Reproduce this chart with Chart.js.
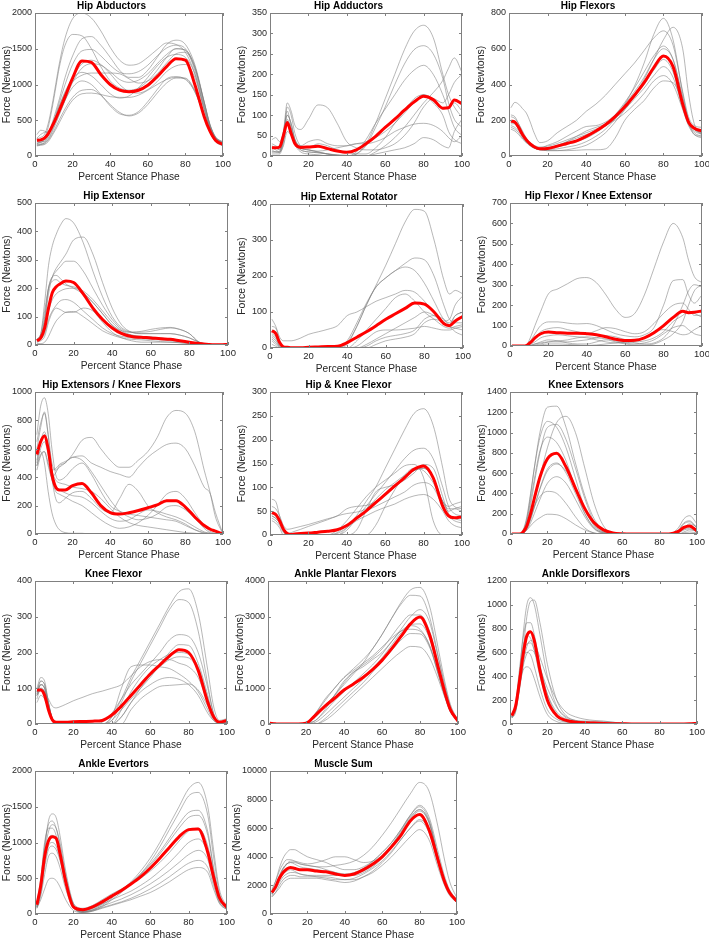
<!DOCTYPE html>
<html><head><meta charset="utf-8">
<script src="https://cdn.jsdelivr.net/npm/chart.js@4.4.1/dist/chart.umd.min.js"></script>
<style>
html,body{margin:0;padding:0;background:#fff;width:709px;height:940px;overflow:hidden;position:relative}
canvas{position:absolute}
</style></head><body>
<script>
// ---------- DATA ----------
const pct = [1,3,5,7,9,11,13,16,20,25,30,35,40,45,50,55,60,65,70,75,80,85,90,93,96,100];

const hipAbdMean = [220,225,250,310,410,520,640,830,1090,1330,1310,1140,1000,920,900,920,990,1110,1250,1360,1340,1000,550,350,220,160];
const hipAbdSubj = [
 [240,260,300,450,700,1000,1300,1650,1920,2000,1930,1750,1520,1340,1270,1290,1380,1490,1580,1560,1450,1150,650,400,260,200],
 [200,210,250,400,650,950,1250,1550,1700,1680,1500,1250,1050,950,920,950,1050,1200,1380,1500,1480,1200,700,420,260,180],
 [180,190,220,300,450,620,800,1100,1400,1640,1670,1550,1380,1200,1100,1100,1200,1380,1560,1620,1560,1280,760,450,270,190],
 [150,160,190,280,420,580,750,1000,1280,1470,1490,1400,1270,1170,1150,1180,1270,1400,1510,1550,1500,1250,740,430,250,170],
 [160,170,180,230,330,450,580,780,1030,1230,1290,1270,1180,1070,1030,1060,1150,1290,1420,1500,1480,1250,750,440,260,180],
 [250,300,330,350,420,550,700,900,1080,1170,1120,1000,870,810,840,950,1100,1260,1380,1420,1380,1150,680,400,240,170],
 [170,200,200,250,350,480,600,780,960,1050,1000,860,700,590,570,620,760,930,1080,1110,1070,900,560,340,200,150],
 [150,160,170,220,300,400,510,660,820,920,930,850,720,610,560,600,720,880,1020,1090,1080,900,560,340,200,140],
 [140,150,160,200,280,370,470,620,780,870,880,860,830,820,820,850,920,1000,1070,1100,1090,920,580,350,210,150],
 [180,190,220,300,420,560,700,880,1040,1130,1160,1160,1160,1150,1080,1020,1050,1150,1300,1430,1450,1230,750,440,260,180],
 [300,360,350,320,380,500,640,860,1100,1290,1340,1280,1150,1000,900,880,930,1040,1180,1260,1280,1100,650,380,230,170]
];

const hipAddMean = [20,20,22,50,82,55,30,21,22,24,18,12,9,15,30,48,70,90,112,132,146,138,117,118,137,128];
const hipAddSubj = [
 [30,25,20,60,110,70,30,10,5,3,0,0,0,5,30,80,140,200,260,305,320,290,200,150,120,95],
 [25,20,15,50,100,80,40,20,15,10,5,2,0,5,25,70,120,175,225,260,270,250,190,130,90,70],
 [20,15,10,40,90,60,30,15,10,8,5,2,0,10,40,80,115,150,185,210,222,200,150,110,70,50],
 [40,45,35,60,130,110,75,65,90,125,118,80,35,20,15,15,20,30,50,80,120,140,130,150,180,200],
 [15,10,10,50,100,80,40,20,15,10,5,0,0,0,0,10,25,45,70,100,130,155,185,215,240,205],
 [10,10,8,40,85,70,40,25,35,40,30,25,25,30,35,45,60,80,105,130,150,140,115,120,130,110],
 [5,5,5,30,75,60,35,20,15,12,15,20,25,30,30,35,45,60,70,78,80,75,60,45,35,50],
 [10,10,10,25,60,50,30,15,10,8,5,3,2,0,0,5,10,15,20,30,45,40,25,20,60,90],
 [20,20,15,40,120,100,55,25,20,30,25,15,10,5,5,20,45,80,110,140,150,130,100,60,40,30]
];

const hipFlexMean = [195,190,160,120,90,68,52,40,42,55,70,85,110,140,175,220,275,340,410,495,560,500,290,190,155,140];
const hipFlexSubj = [
 [270,300,290,265,240,190,130,75,85,130,165,200,250,290,340,400,460,520,590,660,700,620,360,220,170,160],
 [230,220,180,130,90,60,45,35,35,40,50,60,80,110,150,210,290,390,520,680,770,650,350,200,120,110],
 [180,180,150,110,80,60,45,35,30,30,35,45,60,90,130,190,260,340,430,540,650,720,600,350,180,120],
 [200,190,160,120,90,65,50,40,40,50,65,80,100,130,170,230,300,380,470,560,615,540,320,200,150,130],
 [160,150,130,100,75,55,45,35,40,55,80,110,140,160,180,220,270,330,400,480,540,470,280,180,130,110],
 [150,140,120,95,75,60,50,40,45,60,80,100,120,140,170,200,240,290,350,420,450,400,260,170,120,100],
 [170,160,140,110,80,60,45,35,30,30,30,32,35,35,40,100,200,260,310,380,420,410,300,200,150,120],
 [220,210,180,140,100,75,60,50,55,70,90,110,130,150,170,210,260,320,380,450,500,440,270,180,140,120],
 [190,180,150,110,80,60,50,45,60,80,110,140,165,170,190,230,290,360,440,540,600,540,330,200,150,130]
];

const hipExtMean = [15,25,60,130,185,205,215,225,220,180,130,90,60,40,30,27,25,22,20,15,10,5,2,1,1,2];
const hipExtSubj = [
 [20,40,150,280,350,390,420,445,430,360,260,170,100,60,45,40,40,40,40,35,25,10,3,1,1,1],
 [20,30,80,180,240,270,290,320,370,380,320,220,130,70,45,40,40,40,40,35,25,10,2,1,1,1],
 [15,30,100,200,240,260,275,295,295,260,200,140,90,55,45,45,48,55,60,55,40,10,2,1,1,1],
 [15,30,90,200,240,245,235,215,200,180,150,110,70,45,35,30,28,25,20,15,10,5,2,1,1,1],
 [15,20,50,120,160,180,190,198,200,185,150,110,70,50,45,48,55,60,62,55,40,10,2,1,1,1],
 [10,20,40,90,120,140,155,160,150,120,90,60,40,30,25,22,20,18,15,12,8,4,1,0,0,0],
 [10,15,30,80,115,130,125,115,115,130,120,80,45,25,15,10,10,10,10,8,5,2,0,0,0,0],
 [5,5,10,30,60,85,100,115,118,100,75,50,35,25,20,18,15,12,10,8,5,3,1,0,0,0],
 [20,40,120,200,225,230,220,210,205,190,160,120,80,50,35,30,28,25,20,15,10,5,2,1,1,1]
];

const hipRotMean = [48,40,15,3,2,1,1,1,2,3,4,5,15,30,45,62,80,95,110,125,122,100,68,62,75,88];
const hipRotSubj = [
 [50,45,15,0,0,0,0,0,0,0,0,0,10,60,120,175,230,290,350,385,380,300,190,150,160,150],
 [40,30,8,0,0,0,0,0,0,0,0,0,20,70,125,170,195,215,235,250,245,200,120,80,70,70],
 [35,25,5,0,0,0,0,0,0,0,0,0,15,60,120,170,195,215,225,215,180,130,80,70,90,100],
 [80,60,30,20,20,20,22,28,38,45,52,62,90,100,115,130,140,150,160,155,130,100,75,80,120,145],
 [30,20,5,0,0,0,0,0,0,0,0,0,0,20,50,80,110,140,150,130,100,80,60,55,60,65],
 [20,10,2,0,0,0,0,0,0,0,0,0,0,0,10,25,40,55,70,85,100,90,70,60,55,50],
 [25,15,3,0,0,0,0,0,0,0,0,0,0,5,25,45,50,50,52,55,60,55,50,50,55,60],
 [10,5,0,0,0,0,0,0,0,0,0,0,0,0,0,10,20,25,30,40,70,80,70,60,45,35],
 [60,55,20,0,0,0,0,0,0,0,0,0,0,0,5,20,30,35,40,50,80,90,80,65,90,100]
];

const hipFlexKneeExtMean = [0,0,0,0,5,20,40,60,68,65,63,63,60,55,45,33,27,28,40,65,100,140,170,163,165,172];
const hipFlexKneeExtSubj = [
 [0,0,0,0,10,50,100,170,255,280,305,330,335,310,250,180,140,160,250,380,510,600,530,420,340,310],
 [0,0,0,0,5,30,60,100,118,118,112,108,110,100,80,60,50,45,55,90,200,320,325,250,210,250],
 [0,0,0,0,3,15,40,70,85,90,80,70,60,75,90,85,70,60,70,110,160,200,210,180,150,150],
 [0,0,0,0,0,5,10,15,20,20,20,25,30,40,50,45,30,15,10,15,40,100,200,270,300,290],
 [0,0,0,0,0,3,10,20,30,25,15,10,10,20,30,20,10,5,5,10,30,60,120,200,270,300],
 [0,0,0,0,0,10,20,40,50,55,50,45,40,30,20,15,15,25,40,70,80,70,55,60,80,100],
 [0,0,0,0,0,0,5,10,20,25,30,40,45,40,35,25,15,10,15,30,60,90,100,80,60,50],
 [0,0,0,0,0,0,0,5,10,10,8,5,3,5,10,15,20,20,25,40,70,120,150,170,160,140]
];

const hipExtKneeFlexMean = [560,650,690,600,420,330,310,310,340,355,290,200,150,140,150,165,185,205,235,235,190,120,60,35,20,0];
const hipExtKneeFlexSubj = [
 [700,900,960,850,600,420,380,400,460,500,420,300,200,160,140,130,120,110,100,90,60,30,10,5,2,0],
 [480,560,580,480,400,430,480,500,560,660,680,600,520,470,470,520,580,680,820,870,850,720,450,300,120,0],
 [520,640,700,600,450,460,490,510,540,550,500,470,440,420,400,470,540,590,630,640,600,480,330,290,150,0],
 [600,750,860,700,400,250,220,250,290,300,250,180,150,250,350,300,200,150,120,100,70,30,5,0,0,0],
 [450,550,580,500,380,300,280,260,230,200,150,100,60,40,50,80,130,200,280,300,250,150,60,20,5,0],
 [550,580,500,300,150,70,30,10,5,5,0,0,0,0,0,0,0,0,0,0,0,0,0,0,0,0],
 [480,600,650,560,400,330,310,290,270,260,220,160,110,90,100,140,170,160,140,120,90,50,15,5,0,0],
 [500,650,720,620,450,380,360,350,330,320,300,250,180,120,80,60,50,40,30,20,10,5,0,0,0,0],
 [650,780,850,700,500,450,470,500,540,520,440,340,240,160,120,100,110,140,190,200,170,110,40,10,0,0]
];

const hipKneeFlexMean = [47,43,30,12,3,1,2,3,4,6,8,11,20,35,50,68,85,103,120,138,145,120,60,40,36,38];
const hipKneeFlexSubj = [
 [50,45,30,10,0,0,0,0,0,0,0,0,15,40,70,100,140,180,220,255,265,230,140,80,60,55],
 [45,40,30,10,0,0,0,0,0,0,0,0,10,35,60,85,110,135,160,178,182,160,100,60,45,40],
 [75,70,40,10,0,0,0,0,0,0,0,10,30,55,80,100,115,130,145,148,120,30,0,0,0,0],
 [60,55,40,20,12,13,15,18,22,28,34,40,55,60,62,70,85,100,120,135,140,120,70,55,55,50],
 [40,35,25,8,0,0,0,0,0,0,0,5,20,35,50,60,70,80,90,105,110,100,60,40,30,25],
 [40,35,25,10,2,0,0,0,0,0,0,3,15,30,40,50,58,65,75,82,85,75,50,30,20,15],
 [50,45,30,10,2,5,8,12,18,25,32,40,45,48,55,75,95,110,125,135,140,120,70,50,55,60],
 [35,30,20,5,0,0,0,0,0,0,0,0,0,10,50,90,100,105,115,130,148,140,80,45,35,30],
 [30,25,15,0,0,0,0,0,0,0,0,0,0,0,0,20,60,95,125,140,135,110,70,60,65,70]
];

const kneeExtMean = [0,0,0,20,80,200,350,560,740,795,660,450,250,110,40,10,2,0,0,0,0,0,25,65,80,30];
const kneeExtSubj = [
 [0,0,0,30,150,380,650,1000,1250,1260,1050,700,380,150,40,5,0,0,0,0,0,0,30,100,120,60],
 [0,0,0,10,60,180,330,560,850,1100,1160,1000,650,300,80,10,0,0,0,0,0,0,60,150,180,100],
 [0,0,0,40,170,400,650,950,1110,1050,850,550,250,80,15,0,0,0,0,0,0,0,10,40,50,20],
 [0,0,0,20,110,280,500,800,1050,1080,930,650,350,120,25,0,0,0,0,0,0,0,0,10,20,10],
 [0,0,0,30,130,330,540,820,955,900,720,450,200,60,10,0,0,0,0,0,0,0,40,110,130,60],
 [0,0,0,10,60,150,270,450,640,700,600,400,200,60,10,0,0,0,0,0,0,0,20,50,60,30],
 [0,0,0,8,40,110,200,340,500,565,500,340,170,50,5,0,0,0,0,0,0,0,0,20,40,30],
 [0,0,0,15,70,170,270,370,420,400,300,170,60,10,0,0,0,0,0,0,0,0,0,0,0,0],
 [0,0,0,10,40,80,120,160,195,190,150,90,40,10,0,0,0,0,0,0,0,0,0,0,0,0],
 [0,0,0,8,50,140,260,440,620,690,620,450,250,90,20,0,0,0,0,0,0,0,10,60,100,70]
];

const kneeFlexMean = [95,95,80,40,12,5,5,5,6,7,8,10,25,50,80,110,140,165,190,208,200,150,60,20,5,10];
const kneeFlexSubj = [
 [80,110,100,50,10,0,0,0,0,0,0,0,20,70,130,180,230,280,330,370,378,310,150,50,10,15],
 [100,130,120,60,10,0,0,0,0,0,0,0,10,60,120,170,220,270,320,348,340,260,110,30,5,10],
 [90,120,110,60,15,0,0,0,0,0,0,5,30,70,110,140,170,200,235,250,245,200,100,30,5,5],
 [85,110,100,55,15,0,0,0,0,0,0,0,10,40,70,100,130,165,200,222,220,170,80,20,5,10],
 [80,95,90,70,50,45,48,55,65,75,85,92,100,110,135,160,175,180,180,170,160,130,60,20,5,10],
 [90,120,110,60,15,0,0,0,0,0,0,0,0,20,60,100,135,160,180,188,185,150,70,20,5,10],
 [70,100,90,50,10,0,0,0,0,0,0,0,20,100,160,165,165,160,155,140,120,90,40,10,3,5],
 [60,80,70,40,10,0,0,0,0,0,0,0,0,20,60,90,110,125,130,125,110,80,30,10,3,5],
 [85,110,100,55,15,0,0,0,0,0,0,0,0,0,40,70,90,105,108,110,112,95,50,15,3,8],
 [80,100,90,50,10,0,0,0,0,0,0,0,0,40,90,130,160,180,195,200,195,160,70,20,5,10]
];

const plantarMean = [20,10,0,0,0,0,0,0,20,250,500,720,950,1120,1300,1520,1780,2100,2450,2800,2990,2500,1500,900,400,80];
const plantarSubj = [
 [0,0,0,0,0,0,0,0,0,200,500,800,1100,1400,1700,2100,2500,2950,3400,3750,3820,3300,2000,1200,550,100],
 [30,10,0,0,0,0,0,0,0,300,650,1000,1300,1550,1800,2100,2500,2950,3350,3600,3580,3000,1800,1100,500,100],
 [0,0,0,0,0,0,0,0,0,100,350,650,900,1150,1400,1650,1950,2300,2650,3000,3200,2850,1750,1050,450,90],
 [50,20,0,0,0,0,0,0,20,200,500,800,1150,1450,1650,1850,2100,2450,2800,3050,3050,2600,1600,950,400,80],
 [0,0,0,0,0,0,0,0,0,50,250,500,750,1000,1250,1550,1850,2200,2550,2780,2800,2400,1500,900,380,80],
 [20,10,0,0,0,0,0,0,30,100,400,800,1200,1450,1600,1800,2000,2300,2600,2750,2650,2200,1300,800,350,70],
 [0,0,0,0,0,0,0,0,0,0,150,400,650,900,1150,1450,1750,2050,2350,2530,2520,2150,1350,800,350,70],
 [0,0,0,0,0,0,0,0,0,0,100,300,550,800,1050,1300,1550,1800,2020,2170,2150,1850,1200,750,330,70],
 [0,0,0,0,0,0,0,0,20,300,700,1000,1300,1500,1700,1900,2150,2400,2600,2650,2600,2200,1350,800,350,70]
];

const dorsiMean = [70,150,350,580,740,775,700,450,200,70,30,15,10,8,5,3,2,1,1,1,1,1,1,1,2,5];
const dorsiSubj = [
 [60,150,400,750,1000,1060,1000,750,400,150,50,25,15,10,5,2,0,0,0,0,0,0,0,0,0,0],
 [50,100,300,600,900,1030,1040,850,500,200,70,30,20,15,10,5,2,0,0,0,0,0,0,0,0,0],
 [70,180,450,720,850,850,750,500,250,80,30,15,10,5,2,0,0,0,0,0,0,0,0,0,0,0],
 [60,150,400,650,740,720,620,400,200,60,20,10,5,2,0,0,0,0,0,0,0,0,0,0,0,0],
 [60,150,350,580,670,680,620,450,250,100,40,20,10,5,2,0,0,0,0,0,0,0,0,0,0,0],
 [50,110,280,480,590,620,600,470,300,140,60,30,25,22,20,15,8,3,0,0,0,0,0,0,0,0],
 [60,150,380,560,600,580,480,300,120,40,15,5,2,0,0,0,0,0,0,0,0,0,0,0,0,0],
 [50,130,320,450,480,460,380,230,80,20,5,2,0,0,0,0,0,0,0,0,0,0,0,0,0,0],
 [60,120,300,500,650,700,680,560,380,200,100,60,40,30,25,15,5,2,0,0,0,0,0,0,0,0]
];

const evertMean = [130,400,800,1020,1080,1060,850,450,100,60,100,170,250,330,420,520,640,780,930,1080,1180,1190,860,520,230,90];
const evertSubj = [
 [100,400,900,1300,1400,1350,1100,600,150,30,50,120,220,330,450,600,780,1000,1250,1500,1750,1840,1500,900,350,100],
 [120,450,950,1250,1300,1200,950,500,120,20,40,100,200,300,420,560,730,940,1180,1420,1650,1700,1380,800,300,90],
 [150,500,1000,1200,1200,1100,850,450,100,30,60,140,240,340,440,560,700,870,1060,1260,1420,1450,1150,650,250,90],
 [100,350,800,1050,1100,1050,850,500,150,80,120,200,280,350,420,500,600,720,860,1020,1160,1200,950,550,220,80],
 [80,300,700,950,1000,950,780,450,120,50,80,140,200,260,320,400,490,600,720,860,1000,1050,850,500,200,80],
 [100,300,650,900,950,900,750,420,100,40,60,110,160,210,270,340,420,510,610,720,830,890,760,450,180,70],
 [90,250,550,800,850,800,650,350,80,30,50,90,130,170,220,280,350,430,520,620,710,750,650,400,160,60],
 [80,200,350,480,500,470,380,200,50,20,40,80,120,160,200,250,300,370,450,540,620,650,580,350,150,60],
 [110,380,850,1150,1250,1200,1000,550,130,40,80,150,240,330,430,550,680,840,1020,1200,1350,1380,1100,620,240,90]
];

const sumMean = [1500,1900,2500,2900,3150,3250,3200,3100,3100,3000,2950,2800,2700,2800,3100,3500,4000,4700,5500,6500,6950,5900,3700,2400,1500,900];
const sumSubj = [
 [1400,1900,2600,3200,3500,3600,3600,3500,3400,3300,3300,3400,3500,3700,4100,4700,5500,6400,7400,8400,9200,8600,6000,4000,2300,1100],
 [1600,2300,3200,3900,4300,4500,4500,4300,4000,3800,3600,3300,3100,3100,3300,3700,4300,5000,5900,6900,7600,6800,4300,2800,1700,1000],
 [1500,2000,2700,3200,3500,3600,3500,3300,3200,3100,3000,2900,2800,2900,3200,3700,4300,5000,5900,6900,7500,6600,4000,2600,1600,900],
 [1300,1800,2400,2800,3000,3100,3000,2800,2700,2700,2700,2700,2700,2800,3000,3400,4000,4800,5800,6800,7300,6400,3800,2400,1500,800],
 [1400,1700,2200,2600,2800,2900,2900,2800,2700,2600,2500,2400,2400,2500,2800,3200,3700,4400,5200,6000,6500,5700,3500,2200,1400,800],
 [1200,1500,2000,2400,2600,2700,2700,2600,2600,2600,2600,2500,2400,2400,2600,2900,3400,4000,4700,5400,5900,5200,3200,2100,1300,800],
 [1700,2300,3000,3500,3800,3800,3700,3500,3400,3300,3100,2900,2700,2700,2900,3300,3900,4700,5600,6600,7200,6400,3900,2500,1500,900],
 [1200,1500,1800,2200,2400,2500,2500,2500,2500,2500,2400,2300,2200,2300,2600,3000,3600,4300,5200,6000,6600,5900,3600,2300,1400,800],
 [1400,1800,2500,3100,3500,3700,3700,3600,3500,3600,3800,4000,4000,3800,3600,3700,4100,4800,5700,6700,7300,6500,3900,2500,1500,900]
];

const xTicksStep = 20;
const xLabel = 'Percent Stance Phase';
const yLabel = 'Force (Newtons)';

// ---------- LAYOUT ----------
const panels = [
 {title:'Hip Abductors', mean:hipAbdMean, subj:hipAbdSubj, yMax:2000, yStep:500, box:[35,13,223,156]},
 {title:'Hip Adductors', mean:hipAddMean, subj:hipAddSubj, yMax:350, yStep:50, box:[270,13,462,156]},
 {title:'Hip Flexors', mean:hipFlexMean, subj:hipFlexSubj, yMax:800, yStep:200, box:[509,13,702,156]},
 {title:'Hip Extensor', mean:hipExtMean, subj:hipExtSubj, yMax:500, yStep:100, box:[35,203,228,345]},
 {title:'Hip External Rotator', mean:hipRotMean, subj:hipRotSubj, yMax:400, yStep:100, box:[270,204,463,348]},
 {title:'Hip Flexor / Knee Extensor', mean:hipFlexKneeExtMean, subj:hipFlexKneeExtSubj, yMax:700, yStep:100, box:[510,203,702,346]},
 {title:'Hip Extensors / Knee Flexors', mean:hipExtKneeFlexMean, subj:hipExtKneeFlexSubj, yMax:1000, yStep:200, box:[35,392,223,534]},
 {title:'Hip & Knee Flexor', mean:hipKneeFlexMean, subj:hipKneeFlexSubj, yMax:300, yStep:50, box:[270,392,462,535]},
 {title:'Knee Extensors', mean:kneeExtMean, subj:kneeExtSubj, yMax:1400, yStep:200, box:[510,392,697,534]},
 {title:'Knee Flexor', mean:kneeFlexMean, subj:kneeFlexSubj, yMax:400, yStep:100, box:[35,581,227,724]},
 {title:'Ankle Plantar Flexors', mean:plantarMean, subj:plantarSubj, yMax:4000, yStep:1000, box:[268,581,458,724]},
 {title:'Ankle Dorsiflexors', mean:dorsiMean, subj:dorsiSubj, yMax:1200, yStep:200, box:[510,581,697,724]},
 {title:'Ankle Evertors', mean:evertMean, subj:evertSubj, yMax:2000, yStep:500, box:[35,771,227,914]},
 {title:'Muscle Sum', mean:sumMean, subj:sumSubj, yMax:10000, yStep:2000, box:[270,771,457,914], left:40}
];

const FONT = "'Liberation Sans', Arial, Helvetica, sans-serif";
const T = 17, B = 29, R = 12;

const boxPlugin = {
  id: 'matlabBox',
  afterDatasetsDraw(chart) {
    const {ctx, chartArea: a} = chart;
    const xs = chart.scales.x, ys = chart.scales.y;
    ctx.save();
    ctx.strokeStyle = '#808080';
    ctx.lineWidth = 1;
    ctx.strokeRect(Math.round(a.left) + 0.5, Math.round(a.top) + 0.5, Math.round(a.width) - 1, Math.round(a.height) - 1);
    ctx.beginPath();
    xs.ticks.forEach(t => {
      const px = Math.round(xs.getPixelForValue(t.value)) + 0.5;
      ctx.moveTo(px, a.bottom); ctx.lineTo(px, a.bottom - 3);
      ctx.moveTo(px, a.top); ctx.lineTo(px, a.top + 3);
    });
    ys.ticks.forEach(t => {
      const py = Math.round(ys.getPixelForValue(t.value)) + 0.5;
      ctx.moveTo(a.left, py); ctx.lineTo(a.left + 3, py);
      ctx.moveTo(a.right, py); ctx.lineTo(a.right - 3, py);
    });
    ctx.stroke();
    ctx.restore();
  }
};

panels.forEach(p => {
  const [x0, y0, x1, y1] = p.box;
  const L = p.left || 35;
  const w = L + (x1 - x0) + R, h = T + (y1 - y0) + B;
  const cv = document.createElement('canvas');
  cv.width = w; cv.height = h;
  cv.style.left = (x0 - L) + 'px'; cv.style.top = (y0 - T) + 'px';
  cv.style.width = w + 'px'; cv.style.height = h + 'px';
  document.body.appendChild(cv);

  const toPts = arr => pct.map((x, i) => ({x: x, y: arr[i]}));
  const datasets = [{
    data: toPts(p.mean), borderColor: '#ff0000', borderWidth: 3,
    pointRadius: 0, cubicInterpolationMode: 'monotone', fill: false
  }];
  p.subj.forEach(s => datasets.push({
    data: toPts(s), borderColor: 'rgba(125,125,125,0.8)', borderWidth: 0.7,
    pointRadius: 0, cubicInterpolationMode: 'monotone', fill: false
  }));

  new Chart(cv, {
    type: 'line',
    data: {datasets},
    plugins: [boxPlugin],
    options: {
      responsive: false, animation: false, devicePixelRatio: 1,
      layout: {padding: {left: 0, right: R, top: 0, bottom: 0}},
      plugins: {
        legend: {display: false}, tooltip: {enabled: false},
        title: {display: true, text: p.title, color: '#000',
          font: {family: FONT, size: 10, weight: 'bold', lineHeight: '13px'},
          padding: {top: 4, bottom: 0}}
      },
      scales: {
        x: {type: 'linear', min: 0, max: 100,
          afterFit: s => { s.height = B; },
          grid: {display: false, drawTicks: false},
          border: {display: false},
          ticks: {stepSize: xTicksStep, autoSkip: false, maxRotation: 0, padding: 3,
            color: '#262626', font: {family: FONT, size: 9.5}, callback: v => String(v)},
          title: {display: true, text: xLabel, color: '#262626',
            font: {family: FONT, size: 10.2}, padding: {top: 0, bottom: 2}}
        },
        y: {type: 'linear', min: 0, max: p.yMax,
          afterFit: s => { s.width = L; },
          grid: {display: false, drawTicks: false},
          border: {display: false},
          ticks: {stepSize: p.yStep, autoSkip: false, padding: 3,
            color: '#262626', font: {family: FONT, size: 9}, callback: v => String(v)},
          title: {display: true, text: yLabel, color: '#262626',
            font: {family: FONT, size: 10.5}, padding: {top: 1, bottom: 0}}
        }
      }
    }
  });
});
</script>
</body></html>
